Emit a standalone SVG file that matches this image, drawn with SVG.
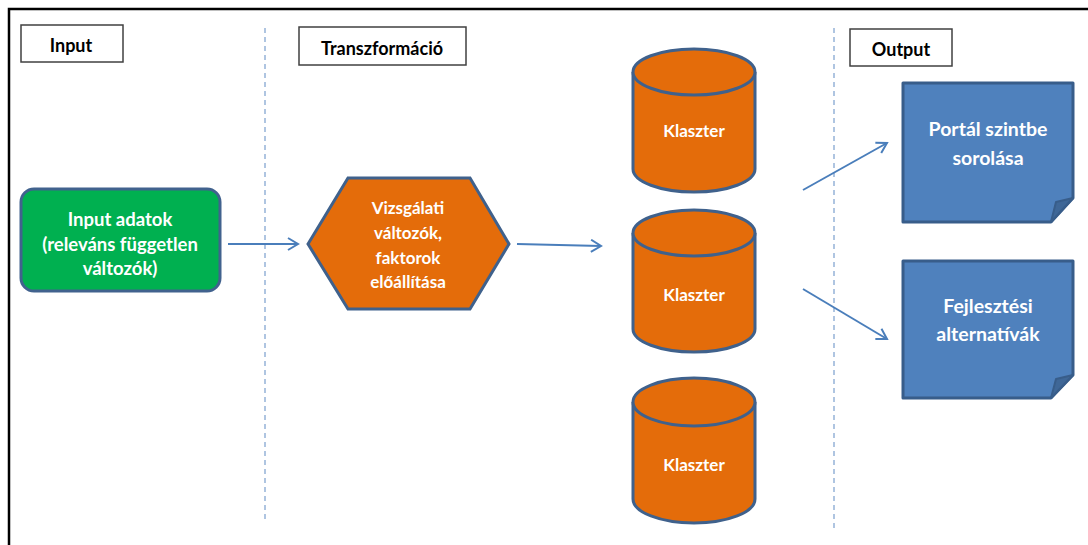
<svg xmlns="http://www.w3.org/2000/svg" width="1088" height="545" viewBox="0 0 1088 545">
<defs>
<style>
.lbl{fill:#fff;stroke:#404040;stroke-width:1.5}
.lt{font-family:Lato,"Liberation Sans",sans-serif;font-weight:bold;font-size:18px;fill:#000;text-anchor:middle;dominant-baseline:central}
.wt{font-family:Lato,"Liberation Sans",sans-serif;font-weight:bold;font-size:17px;fill:#fff;text-anchor:middle;dominant-baseline:central}
.g{font-size:18.5px}
.big{font-size:19.5px}
.orange{fill:#E46C0A;stroke:#3F618C;stroke-width:3}
.blue{fill:#4F81BD;stroke:#385D8A;stroke-width:3;stroke-linejoin:round}
.fold{fill:#3F6797;stroke:#385D8A;stroke-width:2;stroke-linejoin:round}
.dash{stroke:#95B3D7;stroke-width:1.5;stroke-dasharray:5 4;fill:none}
.conn{stroke:#4A7EBB;stroke-width:2;fill:none;marker-end:url(#arr)}
</style>
<marker id="arr" viewBox="0 0 14 14" refX="12" refY="7" markerWidth="14" markerHeight="14" markerUnits="userSpaceOnUse" orient="auto">
<path d="M2,1 L12,7 L2,13" fill="none" stroke="#4A7EBB" stroke-width="2"/>
</marker>
</defs>
<rect width="1088" height="545" fill="#fff"/>
<path d="M9,545 L9,9 L1088,9" fill="none" stroke="#000" stroke-width="2.5"/>
<g id="dividers">
<line class="dash" x1="265" y1="28" x2="265" y2="521"/>
<line class="dash" x1="834" y1="28" x2="834" y2="532"/>
</g>
<g id="label-input">
<rect class="lbl" x="21" y="25" width="102" height="37"/>
<text class="lt" x="71" y="45">Input</text>
</g>
<g id="label-transzformacio">
<rect class="lbl" x="299" y="27" width="167" height="38"/>
<text class="lt" x="382" y="48">Transzformáció</text>
</g>
<g id="label-output">
<rect class="lbl" x="850" y="29" width="102" height="37"/>
<text class="lt" x="901" y="49">Output</text>
</g>
<g id="connectors">
<line class="conn" x1="228" y1="244" x2="298" y2="244"/>
<line class="conn" x1="517" y1="244" x2="601" y2="246"/>
<line class="conn" x1="803" y1="190" x2="887" y2="143"/>
<line class="conn" x1="803" y1="289" x2="887" y2="339"/>
</g>
<g id="input-adatok">
<rect x="21" y="189" width="199" height="102" rx="13" fill="#00B050" stroke="#41628E" stroke-width="3"/>
<text class="wt g" x="120" y="219">Input adatok</text>
<text class="wt g" x="120" y="244">(releváns független</text>
<text class="wt g" x="120" y="268">változók)</text>
</g>
<g id="vizsgalati">
<polygon class="orange" points="308,244 348,178 470,178 509,244 470,309 348,309"/>
<text class="wt" x="408" y="207">Vizsgálati</text>
<text class="wt" x="408" y="232">változók,</text>
<text class="wt" x="408" y="257">faktorok</text>
<text class="wt" x="408" y="281">előállítása</text>
</g>
<g id="klaszter-1">
<path class="orange" d="M633,72 L633,169 A61,23 0 0 0 755,169 L755,72"/>
<ellipse class="orange" cx="694" cy="72" rx="61" ry="23"/>
<text class="wt" x="694" y="130">Klaszter</text>
</g>
<g id="klaszter-2">
<path class="orange" d="M633,233 L633,329 A61,23 0 0 0 755,329 L755,233"/>
<ellipse class="orange" cx="694" cy="233" rx="61" ry="23"/>
<text class="wt" x="694" y="294">Klaszter</text>
</g>
<g id="klaszter-3">
<path class="orange" d="M633,402 L633,499 A61,24 0 0 0 755,499 L755,402"/>
<ellipse class="orange" cx="694" cy="402" rx="61" ry="24"/>
<text class="wt" x="694" y="464">Klaszter</text>
</g>
<g id="portal">
<path class="blue" d="M903,83 L1073,83 L1073,198 L1051,222 L903,222 Z"/>
<path class="fold" d="M1073,198 L1056,202 L1051,222 Z"/>
<text class="wt big" x="988" y="128">Portál szintbe</text>
<text class="wt big" x="988" y="157">sorolása</text>
</g>
<g id="fejlesztesi">
<path class="blue" d="M903,261 L1073,261 L1073,375 L1051,398 L903,398 Z"/>
<path class="fold" d="M1073,375 L1056,379 L1051,398 Z"/>
<text class="wt big" x="988" y="305">Fejlesztési</text>
<text class="wt big" x="988" y="333">alternatívák</text>
</g>
</svg>
